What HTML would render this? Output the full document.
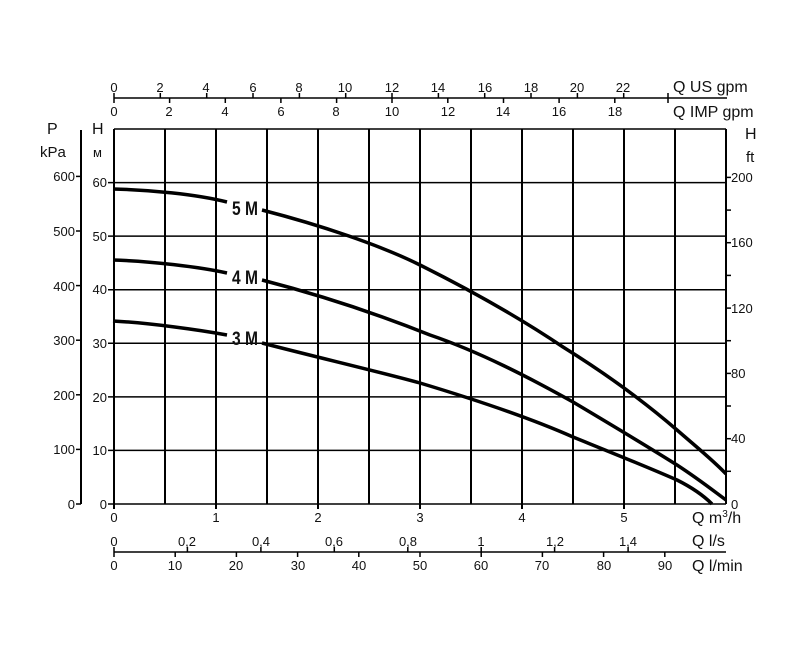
<!DOCTYPE html>
<html><head><meta charset="utf-8"><style>
html,body{margin:0;padding:0;background:#fff;}
svg{display:block;}
text{font-family:"Liberation Sans",Arial,sans-serif;fill:#111;}
.s{font-size:13px;}
.m{font-size:16px;}
.lab{font-family:"Liberation Sans Narrow","Liberation Sans",sans-serif;font-weight:bold;font-size:19px;}
</style></head><body>
<svg width="800" height="650" viewBox="0 0 800 650" xmlns="http://www.w3.org/2000/svg">
<rect width="800" height="650" fill="#fff"/>
<g stroke="#000" stroke-width="1.5">
<line x1="108" y1="504" x2="726" y2="504"/>
<line x1="108" y1="450.4" x2="726" y2="450.4"/>
<line x1="108" y1="396.9" x2="726" y2="396.9"/>
<line x1="108" y1="343.3" x2="726" y2="343.3"/>
<line x1="108" y1="289.7" x2="726" y2="289.7"/>
<line x1="108" y1="236.1" x2="726" y2="236.1"/>
<line x1="108" y1="182.6" x2="726" y2="182.6"/>
<line x1="114" y1="129" x2="726" y2="129"/>
</g>
<g stroke="#000" stroke-width="2">
<line x1="114" y1="129" x2="114" y2="509"/>
<line x1="165" y1="129" x2="165" y2="504"/>
<line x1="216" y1="129" x2="216" y2="509"/>
<line x1="267" y1="129" x2="267" y2="504"/>
<line x1="318" y1="129" x2="318" y2="509"/>
<line x1="369" y1="129" x2="369" y2="504"/>
<line x1="420" y1="129" x2="420" y2="509"/>
<line x1="471" y1="129" x2="471" y2="504"/>
<line x1="522" y1="129" x2="522" y2="509"/>
<line x1="573" y1="129" x2="573" y2="504"/>
<line x1="624" y1="129" x2="624" y2="509"/>
<line x1="675" y1="129" x2="675" y2="504"/>
<line x1="726" y1="129" x2="726" y2="504"/>
</g>
<g class="s" text-anchor="end">
<text x="107" y="509">0</text><text x="107" y="455">10</text><text x="107" y="402">20</text>
<text x="107" y="348">30</text><text x="107" y="294">40</text><text x="107" y="241">50</text><text x="107" y="187">60</text>
</g>
<text x="92" y="134" class="m">H</text><text x="93" y="157" class="s">м</text>
<line x1="81" y1="130" x2="81" y2="504" stroke="#000" stroke-width="2"/>
<g stroke="#000" stroke-width="1.5">
<line x1="76" y1="504" x2="81" y2="504"/><line x1="76" y1="449.4" x2="81" y2="449.4"/>
<line x1="76" y1="394.8" x2="81" y2="394.8"/><line x1="76" y1="340.2" x2="81" y2="340.2"/>
<line x1="76" y1="285.6" x2="81" y2="285.6"/><line x1="76" y1="231" x2="81" y2="231"/>
<line x1="76" y1="176.4" x2="81" y2="176.4"/>
</g>
<g class="s" text-anchor="end">
<text x="75" y="509">0</text><text x="75" y="454">100</text><text x="75" y="400">200</text>
<text x="75" y="345">300</text><text x="75" y="291">400</text><text x="75" y="236">500</text><text x="75" y="181">600</text>
</g>
<text x="47" y="134" class="m">P</text><text x="40" y="157" class="s" style="font-size:15px">kPa</text>
<g stroke="#000" stroke-width="1.5">
<line x1="726" y1="471.3" x2="731" y2="471.3"/><line x1="726" y1="438.7" x2="731" y2="438.7"/>
<line x1="726" y1="406" x2="731" y2="406"/><line x1="726" y1="373.4" x2="731" y2="373.4"/>
<line x1="726" y1="340.7" x2="731" y2="340.7"/><line x1="726" y1="308.1" x2="731" y2="308.1"/>
<line x1="726" y1="275.4" x2="731" y2="275.4"/><line x1="726" y1="242.7" x2="731" y2="242.7"/>
<line x1="726" y1="210.1" x2="731" y2="210.1"/><line x1="726" y1="177.4" x2="731" y2="177.4"/>
</g>
<g class="s">
<text x="731" y="509">0</text><text x="731" y="443">40</text><text x="731" y="378">80</text>
<text x="731" y="313">120</text><text x="731" y="247">160</text><text x="731" y="182">200</text>
</g>
<text x="745" y="139" class="m">H</text><text x="746" y="162" class="s" style="font-size:15px">ft</text>
<line x1="114" y1="98" x2="727" y2="98" stroke="#000" stroke-width="1.5"/>
<g stroke="#000" stroke-width="1.5">
<line x1="114" y1="93" x2="114" y2="103"/>
<line x1="160.3" y1="93" x2="160.3" y2="98"/><line x1="206.7" y1="93" x2="206.7" y2="98"/>
<line x1="253" y1="93" x2="253" y2="98"/><line x1="299.4" y1="93" x2="299.4" y2="98"/>
<line x1="345.7" y1="93" x2="345.7" y2="98"/><line x1="392" y1="93" x2="392" y2="103"/>
<line x1="438.4" y1="93" x2="438.4" y2="98"/><line x1="484.7" y1="93" x2="484.7" y2="98"/>
<line x1="531" y1="93" x2="531" y2="98"/><line x1="577.4" y1="93" x2="577.4" y2="98"/>
<line x1="623.7" y1="93" x2="623.7" y2="98"/><line x1="668" y1="93" x2="668" y2="103"/>
<line x1="169.6" y1="98" x2="169.6" y2="103"/><line x1="225.3" y1="98" x2="225.3" y2="103"/>
<line x1="280.9" y1="98" x2="280.9" y2="103"/><line x1="336.6" y1="98" x2="336.6" y2="103"/>
<line x1="447.8" y1="98" x2="447.8" y2="103"/><line x1="503.5" y1="98" x2="503.5" y2="103"/>
<line x1="559.1" y1="98" x2="559.1" y2="103"/><line x1="614.8" y1="98" x2="614.8" y2="103"/>
</g>
<g class="s" text-anchor="middle">
<text x="114" y="92">0</text><text x="160" y="92">2</text><text x="206" y="92">4</text><text x="253" y="92">6</text>
<text x="299" y="92">8</text><text x="345" y="92">10</text><text x="392" y="92">12</text><text x="438" y="92">14</text>
<text x="485" y="92">16</text><text x="531" y="92">18</text><text x="577" y="92">20</text><text x="623" y="92">22</text>
<text x="114" y="116">0</text><text x="169" y="116">2</text><text x="225" y="116">4</text><text x="281" y="116">6</text>
<text x="336" y="116">8</text><text x="392" y="116">10</text><text x="448" y="116">12</text><text x="503" y="116">14</text>
<text x="559" y="116">16</text><text x="615" y="116">18</text>
</g>
<text x="673" y="92" class="m">Q US gpm</text>
<text x="673" y="117" class="m">Q IMP gpm</text>
<g class="s" text-anchor="middle">
<text x="114" y="522">0</text><text x="216" y="522">1</text><text x="318" y="522">2</text>
<text x="420" y="522">3</text><text x="522" y="522">4</text><text x="624" y="522">5</text>
</g>
<text x="692" y="523" class="m">Q m<tspan dy="-6" style="font-size:10px">3</tspan><tspan dy="6">/h</tspan></text>
<line x1="114" y1="552" x2="726" y2="552" stroke="#000" stroke-width="1.5"/>
<g stroke="#000" stroke-width="1.5">
<line x1="114" y1="547" x2="114" y2="557"/>
<line x1="187.4" y1="547" x2="187.4" y2="552"/><line x1="260.9" y1="547" x2="260.9" y2="552"/>
<line x1="334.3" y1="547" x2="334.3" y2="552"/><line x1="407.8" y1="547" x2="407.8" y2="552"/>
<line x1="481.2" y1="547" x2="481.2" y2="557"/><line x1="554.6" y1="547" x2="554.6" y2="552"/>
<line x1="628.1" y1="547" x2="628.1" y2="552"/>
<line x1="175.2" y1="552" x2="175.2" y2="557"/><line x1="236.4" y1="552" x2="236.4" y2="557"/>
<line x1="297.6" y1="552" x2="297.6" y2="557"/><line x1="358.8" y1="552" x2="358.8" y2="557"/>
<line x1="420" y1="552" x2="420" y2="557"/><line x1="542.4" y1="552" x2="542.4" y2="557"/>
<line x1="603.6" y1="552" x2="603.6" y2="557"/><line x1="664.8" y1="552" x2="664.8" y2="557"/>
</g>
<g class="s" text-anchor="middle">
<text x="114" y="546">0</text><text x="187" y="546">0,2</text><text x="261" y="546">0,4</text><text x="334" y="546">0,6</text>
<text x="408" y="546">0,8</text><text x="481" y="546">1</text><text x="555" y="546">1,2</text><text x="628" y="546">1,4</text>
<text x="114" y="570">0</text><text x="175" y="570">10</text><text x="236" y="570">20</text><text x="298" y="570">30</text>
<text x="359" y="570">40</text><text x="420" y="570">50</text><text x="481" y="570">60</text><text x="542" y="570">70</text>
<text x="604" y="570">80</text><text x="665" y="570">90</text>
</g>
<text x="692" y="546" class="m">Q l/s</text>
<text x="692" y="571" class="m">Q l/min</text>
<g fill="none" stroke="#000" stroke-width="3.5" stroke-linecap="butt">
<path d="M113,189 C150,190 195,194 227,202"/>
<path d="M262,210 C320,225 380,245 420,265 C470,290 520,318 563,347 C600,370 640,398 677,430 C700,450 715,462 726,474"/>
<path d="M113,260 C150,261 200,267 227,273"/>
<path d="M262,280 C320,295 380,315 430,335 C480,352 530,378 573,402 C610,424 650,448 677,465 C700,480 715,492 726,500"/>
<path d="M113,321 C150,323 200,330 227,335"/>
<path d="M262,343 C320,358 380,372 420,383 C470,398 530,418 573,437 C610,452 650,468 677,480 C695,489 705,497 712,504"/>
</g>
<g class="lab">
<text x="232" y="215" textLength="26" lengthAdjust="spacingAndGlyphs">5 M</text>
<text x="232" y="284" textLength="26" lengthAdjust="spacingAndGlyphs">4 M</text>
<text x="232" y="345" textLength="26" lengthAdjust="spacingAndGlyphs">3 M</text>
</g>
</svg>
</body></html>
